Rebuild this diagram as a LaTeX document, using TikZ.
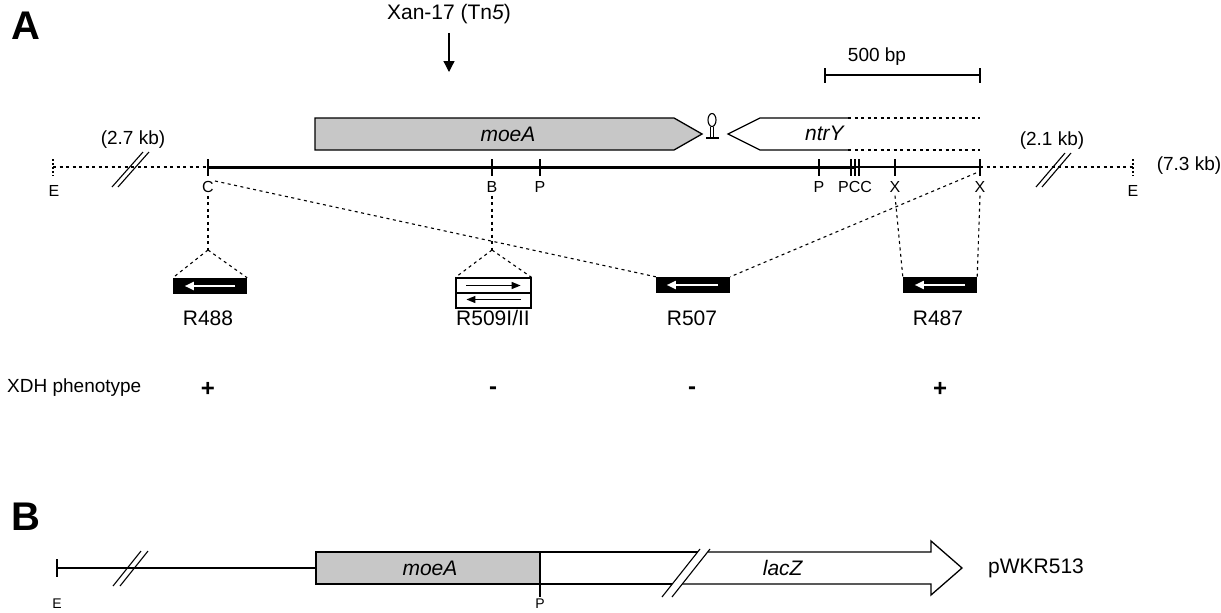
\documentclass[tikz,border=0pt]{standalone}
\usepackage{fontspec}
\setmainfont{Liberation Sans}
\usetikzlibrary{arrows.meta,calc}
\begin{document}
\begin{tikzpicture}[x=1pt,y=-1pt,
  lbl/.style={font=\fontsize{16}{16}\selectfont, inner sep=0pt},
  big/.style={font=\fontsize{21}{21}\selectfont, inner sep=0pt},
  mid/.style={font=\fontsize{19}{19}\selectfont, inner sep=0pt},
  panel/.style={font=\fontsize{40}{40}\selectfont\bfseries, inner sep=0pt},
  sign/.style={font=\fontsize{24}{24}\selectfont\bfseries, inner sep=0pt},
  dsh/.style={dash pattern=on 3pt off 3.5pt, line width=1.1pt},
  dots/.style={dash pattern=on 2pt off 2pt, line width=1.1pt},
  tk/.style={line width=1.1pt},
  gene/.style={draw, line width=1.3pt, line join=miter},
  stipple/.style={fill=black!22},
  ins/.style={fill=black, inner sep=0pt, minimum width=74pt, minimum height=16pt},
  warr/.style={white, line width=1.8pt, -{Triangle[length=9pt,width=8pt]}},
  barr/.style={black, line width=1.3pt, -{Triangle[length=9pt,width=7pt]}},
]
\useasboundingbox (0,0) rectangle (1221,613);

% ---------------- Panel A ----------------
\node[panel] (pA) at (26,26) {A};
\node[big] (xan) at (449,14) {Xan-17 (Tn\textit{5})};
\coordinate (xanpt) at (449,72);
\draw[line width=1.3pt, -{Triangle[length=11pt,width=11pt]}] ([yshift=-9pt]xan.south) -- (xanpt);

% scale bar
\coordinate (sb1) at (825,75);
\coordinate (sb2) at (980,75);
\draw[tk] (sb1) -- (sb2);
\draw[tk] (sb1) ++(0,-7) -- ++(0,15);
\draw[tk] (sb2) ++(0,-7) -- ++(0,15);
\node[mid] (sbl) at (877,57) {500 bp};

% genes
\draw[gene, stipple] (315,118) -- (674,118) -- (702,134) -- (674,150) -- (315,150) -- cycle;
\node[big] (moeA) at (508,134) {\textit{moeA}};
\draw[gene] (848,118) -- (760,118) -- (728,134) -- (760,150) -- (848,150);
\node[big] (ntrY) at (825,133) {\textit{ntrY}};
\draw[dsh] (848,118) -- (980,118);
\draw[dsh] (848,150) -- (980,150);

% stem-loop terminator
\draw[line width=1.1pt] (712,120) ellipse (4 and 6.5);
\draw[line width=1.1pt] (710.3,126.5) -- (710.3,137.5) (713.7,126.5) -- (713.7,137.5);
\draw[line width=1.1pt] (706,138) -- (719,138);

% main map line
\coordinate (tE1) at (53,167);
\coordinate (tC) at (208,167);
\coordinate (tB) at (492,167);
\coordinate (tP1) at (540,167);
\coordinate (tP2) at (819,167);
\coordinate (tP3) at (851,167);
\coordinate (tC2) at (855,167);
\coordinate (tC3) at (859,167);
\coordinate (tX1) at (895,167);
\coordinate (tX2) at (980,167);
\coordinate (tE2) at (1133,167);

\draw[dsh] (tE1) -- (tC);
\draw[dsh] (tX2) -- (tE2);
\draw[line width=3pt] (tC) -- (tC2);
\draw[line width=1.2pt] (tC2) -- (tX2);
\draw[dots] (tE1) ++(0,-8) -- ++(0,17);
\draw[dots] (tE2) ++(0,-8) -- ++(0,17);
\foreach \c in {tC,tB,tP1,tP2,tP3,tC2,tC3,tX1,tX2}{
  \draw[tk] (\c) ++(0,-8) -- ++(0,17);
}

% breaks
\draw[line width=1.1pt] (112,187) -- (143,152) (118,187) -- (149,152);
\draw[line width=1.1pt] (1036,187) -- (1065,153) (1042,187) -- (1071,153);
\node[mid] (kb27) at (133,140) {(2.7 kb)};
\node[mid] (kb21) at (1052,141) {(2.1 kb)};
\node[mid] (kb73) at (1189,166) {(7.3 kb)};

% site labels
\node[lbl] (lE1) at (54,191) {E};
\node[lbl] (lC) at (208,187) {C};
\node[lbl] (lB) at (492,187) {B};
\node[lbl] (lP1) at (540,187) {P};
\node[lbl] (lP2) at (819,187) {P};
\node[lbl] (lPCC) at (855,187) {PCC};
\node[lbl] (lX1) at (895,187) {X};
\node[lbl] (lX2) at (980,187) {X};
\node[lbl] (lE2) at (1133,191) {E};

% insert boxes
\node[ins] (r488) at (210,286) {};
\node[ins] (r507) at (693,285) {};
\node[ins] (r487) at (940,285) {};
\node[draw, line width=1.2pt, inner sep=0pt, minimum width=75pt, minimum height=30pt] (r509) at (493.5,293) {};
\draw[line width=1.2pt] (r509.west) -- (r509.east);

\draw[warr] ([xshift=-12pt]r488.east) -- ([xshift=12pt]r488.west);
\draw[warr] ([xshift=-12pt]r507.east) -- ([xshift=11pt]r507.west);
\draw[warr] ([xshift=-12pt]r487.east) -- ([xshift=12pt]r487.west);
\draw[barr] ($(r509.west)+(11,-7.5)$) -- ($(r509.east)+(-11,-7.5)$);
\draw[barr] ($(r509.east)+(-11,6.5)$) -- ($(r509.west)+(11,6.5)$);

% dashed connectors
\coordinate (apC) at (208,250);
\coordinate (apB) at (492,250);
\coordinate (cdiag) at (215,181);
\coordinate (xdiag) at (976,173);
\draw[dsh] (lC.south) ++(0,3) -- (apC);
\draw[dsh] (apC) -- (r488.north west);
\draw[dsh] (apC) -- (r488.north east);
\draw[dsh] (lB.south) ++(0,3) -- (apB);
\draw[dsh] (apB) -- (r509.north west);
\draw[dsh] (apB) -- (r509.north east);
\draw[dsh] (cdiag) -- (r507.north west);
\draw[dsh] (xdiag) -- (r507.north east);
\draw[dsh] ([yshift=-3pt]lX1.south) -- (r487.north west);
\draw[dsh] ([yshift=-3pt]lX2.south) -- (r487.north east);

% names
\node[big] (n488) at (208,318) {R488};
\node[big] (n509) at (493,318) {R509I/II};
\node[big] (n507) at (692,318) {R507};
\node[big] (n487) at (938,318) {R487};

% phenotype row
\node[anchor=west, inner sep=0pt, font=\fontsize{19}{19}\selectfont] (xdh) at (7,388) {XDH phenotype};
\node[sign] (s1) at (208,389) {+};
\node[sign] (s2) at (493,391) {-};
\node[sign] (s3) at (692,391) {-};
\node[sign] (s4) at (940,389) {+};

% ---------------- Panel B ----------------
\node[panel] (pB) at (26,517) {B};
\coordinate (bE) at (57,568);
\coordinate (bbox) at (316,568);
\draw[line width=1.2pt] (bE) -- (bbox);
\draw[tk] (bE) ++(0,-9) -- ++(0,18);
\draw[line width=1.1pt] (113,586) -- (141,551) (120,586) -- (148,551);
\node[lbl, font=\fontsize{14}{14}\selectfont] (lbE) at (57,604) {E};

\draw[gene, stipple] (316,552) rectangle (540,584);
\node[big] (bmoeA) at (430,568) {\textit{moeA}};
\draw[gene] (540,552) -- (697.6,552);
\draw[gene] (540,584) -- (672.3,584);
\draw[gene] (707.6,552) -- (931,552) -- (931,541) -- (962,568) -- (931,595) -- (931,584) -- (682.3,584);
\draw[line width=1.1pt] (662,597) -- (700,549) (672,597) -- (710,549);
\node[big] (lacZ) at (783,568) {\textit{lacZ}};
\node[big, anchor=west] (pwkr) at (988,568) {pWKR513};
\draw[tk] (540,584) -- (540,597);
\node[lbl, font=\fontsize{14}{14}\selectfont] (lbP) at (540,604) {P};
\end{tikzpicture}
\end{document}
